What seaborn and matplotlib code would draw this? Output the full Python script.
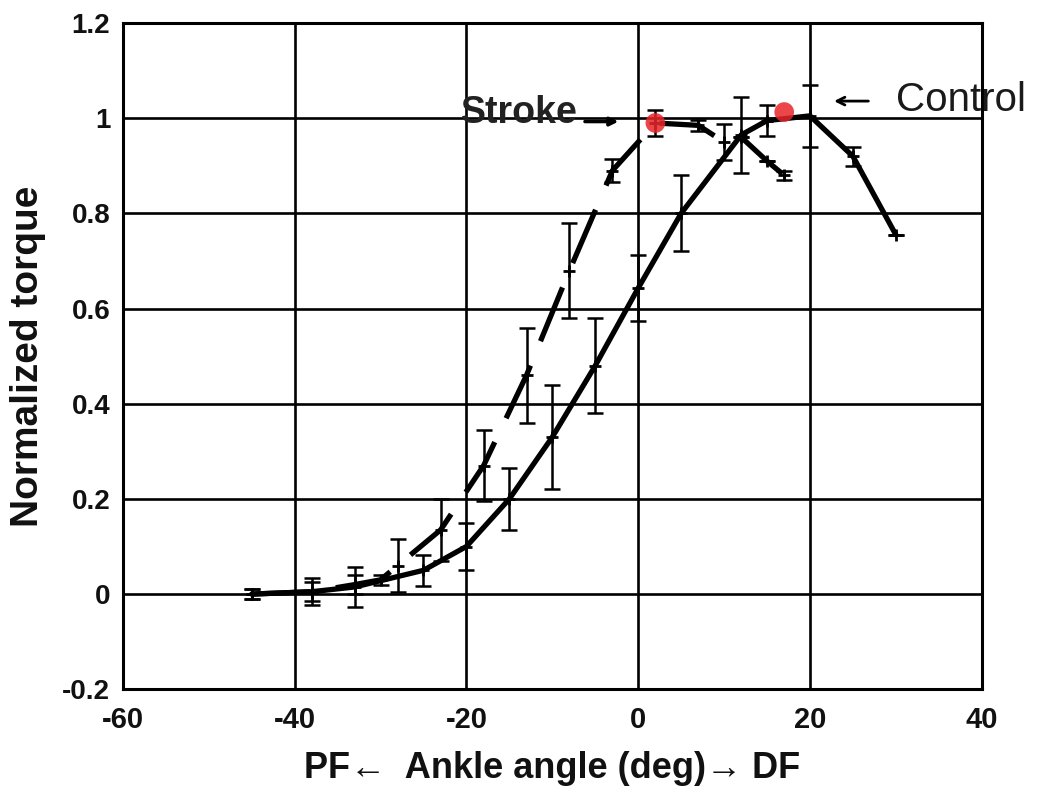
import matplotlib
matplotlib.use('Agg')
import matplotlib.pyplot as plt
import seaborn as sns

# Control group (solid line)
ctrl_angle = [-45, -38, -33, -25, -20, -15, -10, -5, 0, 5, 12, 15, 20, 25, 30]
ctrl_torque = [0.0, 0.005, 0.015, 0.05, 0.10, 0.20, 0.33, 0.48, 0.643, 0.80, 0.965, 0.995, 1.005, 0.92, 0.755]
ctrl_err = [0.01, 0.028, 0.042, 0.032, 0.05, 0.065, 0.11, 0.10, 0.07, 0.08, 0.08, 0.032, 0.065, 0.02, 0.0]

# Stroke group (dashed line)
strk_angle = [-45, -38, -33, -30, -28, -23, -18, -13, -8, -3, 2, 7, 10, 12, 15, 17]
strk_torque = [0.0, 0.005, 0.02, 0.03, 0.06, 0.135, 0.27, 0.46, 0.68, 0.89, 0.99, 0.985, 0.95, 0.96, 0.91, 0.88]
strk_err = [0.01, 0.02, 0.02, 0.01, 0.055, 0.065, 0.075, 0.10, 0.10, 0.025, 0.028, 0.012, 0.037, 0.0, 0.0, 0.01]

# peak markers (red)
peak_angle = [2, 17]
peak_torque = [0.99, 1.013]

sns.set_style('white')
plt.rcParams['font.family'] = ['Liberation Sans', 'DejaVu Sans']
plt.rcParams['axes.unicode_minus'] = False

fig = plt.figure(figsize=(10.5, 7.95), dpi=100)
ax = fig.add_axes([0.117, 0.133, 0.818, 0.838])

# error bars
ax.errorbar(ctrl_angle, ctrl_torque, yerr=ctrl_err, fmt='none', ecolor='black',
            elinewidth=1.8, capsize=6, capthick=1.8, zorder=3)
ax.errorbar(strk_angle, strk_torque, yerr=strk_err, fmt='none', ecolor='black',
            elinewidth=1.8, capsize=6, capthick=1.8, zorder=3)

# curves
sns.lineplot(x=ctrl_angle, y=ctrl_torque, color='black', linewidth=3.8, sort=False,
             ax=ax, zorder=4, marker='+', markersize=9, markeredgewidth=2,
             markeredgecolor='black')
sns.lineplot(x=strk_angle, y=strk_torque, color='black', linewidth=3.8, sort=False,
             ax=ax, zorder=4, linestyle=(0, (11, 5)), marker='+', markersize=9,
             markeredgewidth=2, markeredgecolor='black')

sns.scatterplot(x=peak_angle, y=peak_torque, color='#e8262a', s=200, alpha=0.85,
                edgecolor='none', ax=ax, zorder=5)

ax.set_xlim(-60, 40)
ax.set_ylim(-0.2, 1.2)
ax.set_xticks([-60, -40, -20, 0, 20, 40])
ax.set_yticks([-0.2, 0, 0.2, 0.4, 0.6, 0.8, 1, 1.2])
ax.set_yticklabels(['-0.2', '0', '0.2', '0.4', '0.6', '0.8', '1', '1.2'])
ax.grid(True, color='black', linewidth=1.9)
ax.set_axisbelow(True)
for s in ax.spines.values():
    s.set_color('black')
    s.set_linewidth(2.2)
ax.tick_params(axis='y', length=0, pad=9, labelsize=20, labelcolor='#111111')
ax.tick_params(axis='x', length=0, pad=12, labelsize=21, labelcolor='#111111')
for lab in ax.get_yticklabels() + ax.get_xticklabels():
    lab.set_fontweight('bold')

ax.set_xlabel('PF\u2190  Ankle angle (deg)\u2192 DF', fontsize=26, fontweight='bold',
              color='#111111', labelpad=12)
ax.set_ylabel('Normalized torque', fontsize=28, fontweight='bold', color='#111111',
              labelpad=12)

# annotations
ax.text(-7, 1.01, 'Stroke', fontsize=27, fontweight='bold', color='#222222',
        ha='right', va='center')
ax.annotate('', xy=(-2.3, 0.993), xytext=(-6.2, 0.993),
            arrowprops=dict(arrowstyle='-|>', color='black', lw=2.5,
                            mutation_scale=12, shrinkA=0, shrinkB=0))
ax.annotate('', xy=(22.8, 1.036), xytext=(26.8, 1.036),
            arrowprops=dict(arrowstyle='->', color='black', lw=2.0,
                            mutation_scale=14, shrinkA=0, shrinkB=0))
ax.text(30.0, 1.038, 'Control', fontsize=29, color='#1a1a1a',
        ha='left', va='center', clip_on=False)

fig.savefig('out.png', dpi=100)
